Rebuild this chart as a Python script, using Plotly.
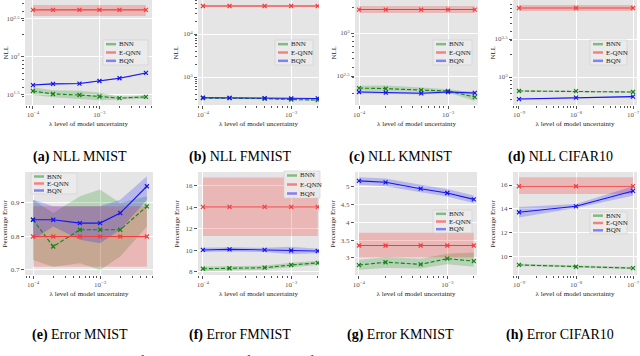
import math
import plotly.graph_objects as go

# ---- data ----
lam_mnist = [1e-4, 2e-4, 5e-4, 1e-3, 2e-3, 5e-3]
lam_fk = [1e-4, 2e-4, 5e-4, 1e-3, 2e-3]
lam_cifar = [1e-9, 1e-8, 1e-7]

# NLL MNIST
nll_mnist_bnn = [35.7, 32.6, 31.6, 30.2, 28.8, 29.8]
nll_mnist_bnn_lo = [31.5, 29.5, 28.0, 27.0, 27.5, 28.3]
nll_mnist_bnn_hi = [40.0, 36.5, 36.0, 34.0, 30.0, 31.3]
nll_mnist_eqnn = [417, 417, 417, 417, 417, 417]
nll_mnist_eqnn_lo = [346, 346, 346, 346, 346, 346]
nll_mnist_eqnn_hi = [483, 483, 483, 483, 483, 483]
nll_mnist_bqn = [42.7, 44.2, 44.7, 48.3, 52.5, 61.7]
nll_mnist_bqn_lo = [41.8, 43.3, 43.8, 47.3, 51.4, 60.4]
nll_mnist_bqn_hi = [43.6, 45.1, 45.6, 49.3, 53.6, 63.0]

# NLL FMNIST
nll_fmnist_bnn = [325, 325, 316, 300, 292]
nll_fmnist_bnn_lo = [312, 313, 305, 289, 281]
nll_fmnist_bnn_hi = [338, 337, 327, 311, 303]
nll_fmnist_eqnn = [44700, 44700, 44700, 44700, 44700]
nll_fmnist_eqnn_lo = [42500, 42500, 42500, 42500, 42500]
nll_fmnist_eqnn_hi = [47000, 47000, 47000, 47000, 47000]
nll_fmnist_bqn = [330, 328, 322, 318, 318]
nll_fmnist_bqn_lo = [322, 320, 314, 308, 310]
nll_fmnist_bqn_hi = [338, 336, 330, 328, 326]

# NLL KMNIST
nll_kmnist_bnn = [229, 226, 217, 212, 180]
nll_kmnist_bnn_lo = [215, 212, 205, 203, 162]
nll_kmnist_bnn_hi = [243, 245, 232, 222, 203]
nll_kmnist_eqnn = [1875, 1875, 1875, 1875, 1875]
nll_kmnist_eqnn_lo = [1710, 1710, 1710, 1710, 1710]
nll_kmnist_eqnn_hi = [2060, 2060, 2060, 2060, 2060]
nll_kmnist_bqn = [206, 203, 199, 206, 201]
nll_kmnist_bqn_lo = [200, 197, 193, 200, 195]
nll_kmnist_bqn_hi = [212, 209, 205, 212, 207]

# NLL CIFAR10
nll_cifar_bnn = [655, 652, 635]
nll_cifar_bnn_lo = [642, 639, 622]
nll_cifar_bnn_hi = [668, 665, 648]
nll_cifar_eqnn = [8090, 8090, 8090]
nll_cifar_eqnn_lo = [7380, 7380, 7380]
nll_cifar_eqnn_hi = [8870, 8870, 8870]
nll_cifar_bqn = [513, 537, 553]
nll_cifar_bqn_lo = [503, 527, 542]
nll_cifar_bqn_hi = [523, 547, 564]

# Error MNIST
err_mnist_bnn = [0.85, 0.77, 0.82, 0.82, 0.82, 0.89]
err_mnist_bnn_lo = [0.73, 0.71, 0.72, 0.70, 0.74, 0.83]
err_mnist_bnn_hi = [0.91, 0.87, 0.92, 0.94, 0.90, 0.92]
err_mnist_eqnn = [0.80, 0.80, 0.80, 0.80, 0.80, 0.80]
err_mnist_eqnn_lo = [0.71, 0.71, 0.71, 0.71, 0.71, 0.71]
err_mnist_eqnn_hi = [0.89, 0.89, 0.89, 0.89, 0.89, 0.89]
err_mnist_bqn = [0.85, 0.85, 0.84, 0.84, 0.87, 0.95]
err_mnist_bqn_lo = [0.79, 0.83, 0.79, 0.78, 0.82, 0.91]
err_mnist_bqn_hi = [0.91, 0.89, 0.89, 0.89, 0.91, 0.98]

# Error FMNIST
err_fmnist_bnn = [8.3, 8.35, 8.4, 8.65, 8.85]
err_fmnist_bnn_lo = [8.1, 8.15, 8.2, 8.45, 8.65]
err_fmnist_bnn_hi = [8.5, 8.55, 8.6, 8.85, 9.05]
err_fmnist_eqnn = [14.05, 14.05, 14.05, 14.05, 14.05]
err_fmnist_eqnn_lo = [11.35, 11.35, 11.35, 11.35, 11.35]
err_fmnist_eqnn_hi = [16.8, 16.8, 16.8, 16.8, 16.8]
err_fmnist_bqn = [10.05, 10.1, 10.05, 10.0, 9.95]
err_fmnist_bqn_lo = [9.85, 9.9, 9.85, 9.65, 9.75]
err_fmnist_bqn_hi = [10.25, 10.3, 10.25, 10.35, 10.15]

# Error KMNIST
err_kmnist_bnn = [2.8, 2.88, 2.82, 2.98, 2.91]
err_kmnist_bnn_lo = [2.67, 2.72, 2.70, 2.82, 2.75]
err_kmnist_bnn_hi = [2.95, 3.02, 2.98, 3.12, 3.15]
err_kmnist_eqnn = [3.35, 3.35, 3.35, 3.35, 3.35]
err_kmnist_eqnn_lo = [3.0, 3.0, 3.0, 3.0, 3.0]
err_kmnist_eqnn_hi = [3.71, 3.71, 3.71, 3.71, 3.71]
err_kmnist_bqn = [5.17, 5.13, 4.95, 4.83, 4.65]
err_kmnist_bqn_lo = [5.06, 5.02, 4.85, 4.73, 4.54]
err_kmnist_bqn_hi = [5.27, 5.24, 5.06, 4.94, 4.76]

# Error CIFAR10
err_cifar_bnn = [9.25, 9.1, 8.98]
err_cifar_bnn_lo = [9.15, 9.0, 8.88]
err_cifar_bnn_hi = [9.35, 9.2, 9.08]
err_cifar_eqnn = [15.9, 15.9, 15.9]
err_cifar_eqnn_lo = [15.24, 15.24, 15.24]
err_cifar_eqnn_hi = [16.65, 16.65, 16.65]
err_cifar_bqn = [13.7, 14.2, 15.5]
err_cifar_bqn_lo = [13.25, 14.05, 15.1]
err_cifar_bqn_hi = [14.15, 14.4, 15.9]

captions = ["(a)|NLL MNIST", "(b)|NLL FMNIST", "(c)|NLL KMNIST", "(d)|NLL CIFAR10",
            "(e)|Error MNIST", "(f)|Error FMNIST", "(g)|Error KMNIST", "(h)|Error CIFAR10"]

W, H = 640, 356
SERIF = "Liberation Serif"
BG = "#e5e5e5"
TICK = "#555555"
COLORS = {"BNN": (0, 128, 0), "E-QNN": (255, 0, 0), "BQN": (0, 0, 255)}


def px_x(x):
    return x / W


def px_y(y):
    return 1 - y / H


def sup(base, e):
    return f"{base}<sup>{e}</sup>"


# panel layout: plot box in px, axis ranges, y ticks, legend box, y-title x position
panels = [
    dict(box=(25, 152, 0, 105), x=lam_mnist, xr=[-4.12, -2.21], ylog=True, yr=[1.368, 2.75],
         yt=[1.5, 2, 2.5], ytl=[sup(10, "1.5"), sup(10, "2"), sup(10, "2.5")],
         series=[(nll_mnist_bnn, nll_mnist_bnn_lo, nll_mnist_bnn_hi),
                 (nll_mnist_eqnn, nll_mnist_eqnn_lo, nll_mnist_eqnn_hi),
                 (nll_mnist_bqn, nll_mnist_bqn_lo, nll_mnist_bqn_hi)],
         leg=(103, 148, 40, 65), ytitle="NLL", ytx=5),
    dict(box=(198, 319, 0, 105), x=lam_fk, xr=[-4.056, -2.685], ylog=True, yr=[2.35, 4.79],
         yt=[3, 4], ytl=[sup(10, "3"), sup(10, "4")],
         series=[(nll_fmnist_bnn, nll_fmnist_bnn_lo, nll_fmnist_bnn_hi),
                 (nll_fmnist_eqnn, nll_fmnist_eqnn_lo, nll_fmnist_eqnn_hi),
                 (nll_fmnist_bqn, nll_fmnist_bqn_lo, nll_fmnist_bqn_hi)],
         leg=(275, 313, 40, 65), ytitle="NLL", ytx=175),
    dict(box=(355, 478, 0, 105), x=lam_fk, xr=[-4.045, -2.663], ylog=True, yr=[2.163, 3.384],
         yt=[2.5, 3], ytl=[sup(10, "2.5"), sup(10, "3")],
         series=[(nll_kmnist_bnn, nll_kmnist_bnn_lo, nll_kmnist_bnn_hi),
                 (nll_kmnist_eqnn, nll_kmnist_eqnn_lo, nll_kmnist_eqnn_hi),
                 (nll_kmnist_bqn, nll_kmnist_bqn_lo, nll_kmnist_bqn_hi)],
         leg=(433, 472, 40, 65), ytitle="NLL", ytx=333),
    dict(box=(513, 637, 0, 105), x=lam_cifar, xr=[-9.105, -6.93], ylog=True, yr=[2.632, 4.013],
         yt=[3, 3.5], ytl=[sup(10, "3"), sup(10, "3.5")],
         series=[(nll_cifar_bnn, nll_cifar_bnn_lo, nll_cifar_bnn_hi),
                 (nll_cifar_eqnn, nll_cifar_eqnn_lo, nll_cifar_eqnn_hi),
                 (nll_cifar_bqn, nll_cifar_bqn_lo, nll_cifar_bqn_hi)],
         leg=(590, 627, 40, 65), ytitle="NLL", ytx=492),
    dict(box=(25, 153, 172, 275), x=lam_mnist, xr=[-4.12, -2.21], ylog=False, yr=[0.685, 0.9925],
         yt=[0.7, 0.8, 0.9], ytl=["0.7", "0.8", "0.9"],
         series=[(err_mnist_bnn, err_mnist_bnn_lo, err_mnist_bnn_hi),
                 (err_mnist_eqnn, err_mnist_eqnn_lo, err_mnist_eqnn_hi),
                 (err_mnist_bqn, err_mnist_bqn_lo, err_mnist_bqn_hi)],
         leg=(31, 77, 173, 194), ytitle="Percentage Error", ytx=5),
    dict(box=(198, 319, 172, 275), x=lam_fk, xr=[-4.056, -2.685], ylog=False, yr=[7.72, 17.3],
         yt=[8, 10, 12, 14, 16], ytl=["8", "10", "12", "14", "16"],
         series=[(err_fmnist_bnn, err_fmnist_bnn_lo, err_fmnist_bnn_hi),
                 (err_fmnist_eqnn, err_fmnist_eqnn_lo, err_fmnist_eqnn_hi),
                 (err_fmnist_bqn, err_fmnist_bqn_lo, err_fmnist_bqn_hi)],
         leg=(284, 320, 171, 198), ytitle="Percentage Error", ytx=177),
    dict(box=(355, 477, 172, 275), x=lam_fk, xr=[-4.045, -2.663], ylog=False, yr=[2.52, 5.42],
         yt=[3, 3.5, 4, 4.5, 5], ytl=["3", "3.5", "4", "4.5", "5"],
         series=[(err_kmnist_bnn, err_kmnist_bnn_lo, err_kmnist_bnn_hi),
                 (err_kmnist_eqnn, err_kmnist_eqnn_lo, err_kmnist_eqnn_hi),
                 (err_kmnist_bqn, err_kmnist_bqn_lo, err_kmnist_bqn_hi)],
         leg=(433, 472, 210, 233), ytitle="Percentage Error", ytx=333),
    dict(box=(513, 637, 172, 275), x=lam_cifar, xr=[-9.105, -6.93], ylog=False, yr=[8.4, 17.1],
         yt=[10, 12, 14, 16], ytl=["10", "12", "14", "16"],
         series=[(err_cifar_bnn, err_cifar_bnn_lo, err_cifar_bnn_hi),
                 (err_cifar_eqnn, err_cifar_eqnn_lo, err_cifar_eqnn_hi),
                 (err_cifar_bqn, err_cifar_bqn_lo, err_cifar_bqn_hi)],
         leg=(590, 627, 212, 234), ytitle="Percentage Error", ytx=493),
]

names = ["BNN", "E-QNN", "BQN"]
dashes = ["4px,2px", "solid", "solid"]
line_cols = {"BNN": "rgb(20,130,20)", "E-QNN": "rgb(245,60,60)", "BQN": "rgb(20,20,245)"}

fig = go.Figure()
shapes = []
annotations = []


def minor_log(lo, hi):
    vals = []
    for k in range(math.floor(lo) - 1, math.ceil(hi) + 1):
        for m in range(2, 10):
            v = m * 10 ** k
            if lo <= math.log10(v) <= hi:
                vals.append(v)
    return vals


for i, p in enumerate(panels, start=1):
    xa, ya = f"x{i}", f"y{i}"
    x0, x1, y0, y1 = p["box"]
    for (mean, lo, hi), name in zip(p["series"], names):
        r, g, b = COLORS[name]
        fig.add_trace(go.Scatter(x=p["x"], y=lo, mode="lines", line=dict(width=0),
                                 hoverinfo="skip", showlegend=False, xaxis=xa, yaxis=ya))
        fig.add_trace(go.Scatter(x=p["x"], y=hi, mode="lines", line=dict(width=0),
                                 fill="tonexty", fillcolor=f"rgba({r},{g},{b},0.2)",
                                 hoverinfo="skip", showlegend=False, xaxis=xa, yaxis=ya))
    for (mean, lo, hi), name, dash in zip(p["series"], names, dashes):
        col = line_cols[name]
        fig.add_trace(go.Scatter(x=p["x"], y=mean, mode="lines+markers", name=name,
                                 line=dict(color=col, width=1.1, dash=dash),
                                 marker=dict(symbol="x-thin", size=4, line=dict(color=col, width=1.2)),
                                 showlegend=False, xaxis=xa, yaxis=ya))

    xexp_lo, xexp_hi = math.ceil(p["xr"][0]), math.floor(p["xr"][1])
    xt = [10 ** k for k in range(xexp_lo, xexp_hi + 1)]
    xtl = [sup(10, f"\u2212{-k}") for k in range(xexp_lo, xexp_hi + 1)]
    common = dict(showline=False, zeroline=False, gridcolor="white", gridwidth=0.8,
                  ticks="outside", ticklen=3, tickwidth=0.7, tickcolor=TICK, automargin=False,
                  tickfont=dict(family=SERIF, size=7, color=TICK), tickmode="array")
    fig.layout[f"xaxis{i}"] = dict(
        common, type="log", range=p["xr"], domain=[px_x(x0), px_x(x1)], anchor=ya,
        tickvals=xt, ticktext=xtl,
        minor=dict(tickvals=minor_log(*p["xr"]), ticks="outside", ticklen=2,
                   tickcolor=TICK, tickwidth=0.5, showgrid=False),
        title=dict(text="\u03bb level of model uncertainty", standoff=2,
                   font=dict(family=SERIF, size=7, color="#222")))
    if p["ylog"]:
        ydict = dict(type="log", tickvals=[10 ** v for v in p["yt"]],
                     minor=dict(tickvals=minor_log(*p["yr"]), ticks="outside", ticklen=2,
                                tickcolor=TICK, tickwidth=0.5, showgrid=False))
    else:
        ydict = dict(type="linear", tickvals=p["yt"])
    fig.layout[f"yaxis{i}"] = dict(
        common, **ydict, range=p["yr"], domain=[px_y(y1), px_y(y0)], anchor=xa,
        ticktext=p["ytl"])

    # y-axis title
    annotations.append(dict(xref="paper", yref="paper", x=px_x(p["ytx"]),
                            y=px_y((y0 + y1) / 2), text=p["ytitle"], textangle=-90,
                            showarrow=False, xanchor="center", yanchor="middle",
                            font=dict(family=SERIF, size=7, color="#222")))

    shapes.append(dict(type="rect", xref="paper", yref="paper", layer="below",
                       x0=px_x(x0), x1=px_x(x1), y0=px_y(y1), y1=px_y(y0),
                       fillcolor=BG, line=dict(width=0)))

    # legend box
    lx0, lx1, ly0, ly1 = p["leg"]
    shapes.append(dict(type="rect", xref="paper", yref="paper", layer="above",
                       x0=px_x(lx0), x1=px_x(lx1), y0=px_y(ly1), y1=px_y(ly0),
                       fillcolor="rgba(236,236,236,0.92)", line=dict(color="#cfcfcf", width=0.6)))
    step = (ly1 - ly0) / 3
    for k, name in enumerate(names):
        r, g, b = COLORS[name]
        yy = ly0 + step * (k + 0.5)
        shapes.append(dict(type="line", xref="paper", yref="paper", layer="above",
                           x0=px_x(lx0 + 3), x1=px_x(lx0 + 13), y0=px_y(yy), y1=px_y(yy),
                           line=dict(color=f"rgba({r},{g},{b},0.45)", width=2.5)))
        annotations.append(dict(xref="paper", yref="paper", x=px_x(lx0 + 14), y=px_y(yy),
                                text=name, showarrow=False, xanchor="left", yanchor="middle",
                                font=dict(family=SERIF, size=7, color="#222")))

    # sub-caption
    tag, txt = captions[i - 1].split("|")
    col = (i - 1) % 4
    cy = 157 if i <= 4 else 335
    annotations.append(dict(xref="paper", yref="paper", x=px_x(80 + 160 * col), y=px_y(cy),
                            text=f"<b>{tag}</b> {txt}", showarrow=False,
                            xanchor="center", yanchor="middle",
                            font=dict(family=SERIF, size=14, color="black")))

annotations.append(dict(xref="paper", yref="paper", x=0, y=px_y(361),
                        text="<b>Figure 4:</b> Comparison of the predictive performance of our BQN "
                             "against the E-QNN as well as the BNN on all datasets",
                        showarrow=False, xanchor="left", yanchor="middle",
                        font=dict(family=SERIF, size=14, color="black")))

fig.update_layout(width=W, height=H, margin=dict(l=0, r=0, t=0, b=0),
                  paper_bgcolor="white", plot_bgcolor=BG, showlegend=False,
                  font=dict(family=SERIF),
                  shapes=shapes, annotations=annotations)

# the page's default body margin would shift the figure by 8px
fig.write_html("out.html", config={"displayModeBar": False},
               post_script="document.body.style.margin='0';")
